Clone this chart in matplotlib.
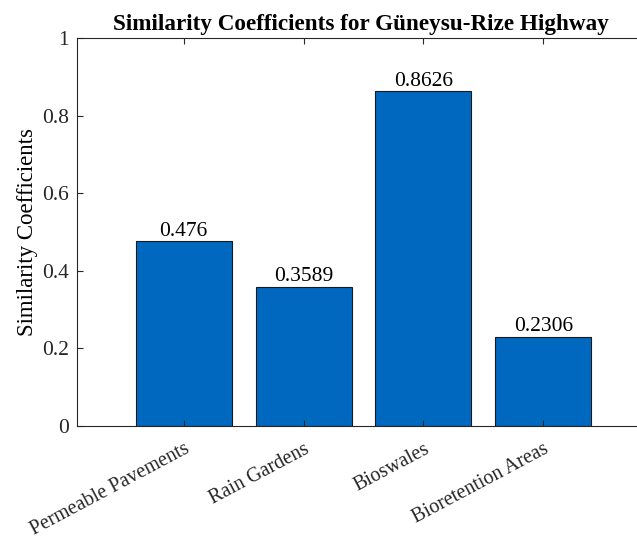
import matplotlib
matplotlib.use('Agg')
import matplotlib.pyplot as plt
from matplotlib.transforms import ScaledTranslation

categories = ['Permeable Pavements', 'Rain Gardens', 'Bioswales', 'Bioretention Areas']
values = [0.476, 0.3589, 0.8626, 0.2306]
value_labels = ['0.476', '0.3589', '0.8626', '0.2306']

plt.rcParams['font.family'] = ['Liberation Serif', 'DejaVu Serif']

fig = plt.figure(figsize=(6.37, 5.40), dpi=100)
# axes box runs off the right edge, like the cropped original
ax = fig.add_axes([77 / 637, 114 / 540, 573 / 637, 388 / 540])

x = list(range(1, len(categories) + 1))
ax.bar(x, values, width=0.8, color='#0068BE', edgecolor='#1a1a1a', linewidth=0.8)

for xi, v, lab in zip(x, values, value_labels):
    ax.text(xi, v + 0.002, lab, ha='center', va='bottom', fontsize=15.5)

ax.set_xlim(0.11, 4.89)
ax.set_ylim(0, 1)
ax.set_yticks([0, 0.2, 0.4, 0.6, 0.8, 1])
ax.set_yticklabels(['0', '0.2', '0.4', '0.6', '0.8', '1'], fontsize=15.5)
ax.set_xticks(x)
ax.set_xticklabels(categories, rotation=28, ha='right', rotation_mode='anchor', fontsize=14.5)
shift = ScaledTranslation(6 / 100, 0, fig.dpi_scale_trans)
for lbl in ax.get_xticklabels():
    lbl.set_transform(lbl.get_transform() + shift)
ax.tick_params(direction='in', top=True, right=True, length=4, width=0.8, colors='#262626')
ax.tick_params(axis='x', pad=10)
ax.tick_params(axis='y', pad=6)
for sp in ax.spines.values():
    sp.set_color('#262626')
    sp.set_linewidth(0.8)

ax.set_ylabel('Similarity Coefficients', fontsize=16.5, labelpad=3)
ax.set_title('Similarity Coefficients for Güneysu-Rize Highway', fontsize=16.7, fontweight='bold', x=(361 - 77) / 573, pad=6)

fig.savefig('out.png', dpi=100)
